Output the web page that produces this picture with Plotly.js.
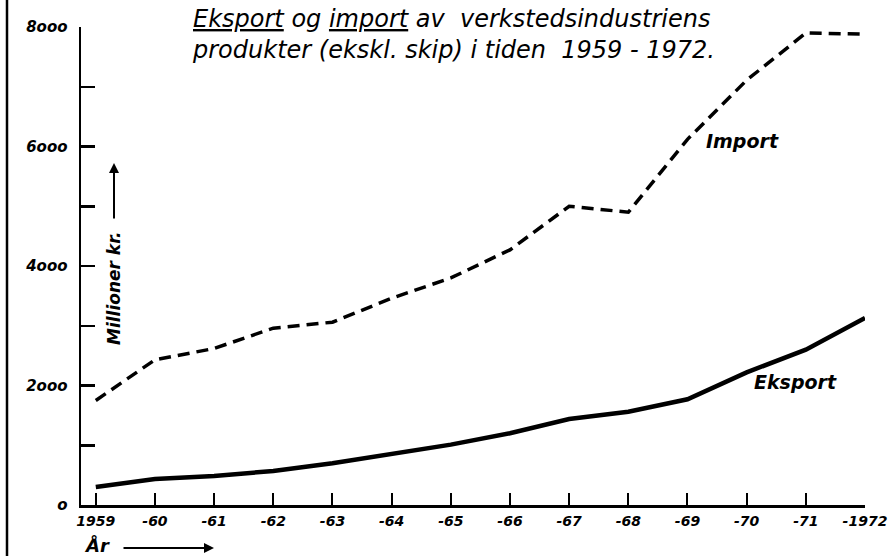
<!DOCTYPE html>
<html><head><meta charset="utf-8">
<script src="https://cdn.plot.ly/plotly-3.0.1.min.js"></script>
<style>html,body{margin:0;padding:0;background:#fff;}#chart{width:888px;height:556px;}</style>
</head><body><div id="chart"></div>
<script>
const years = [1959,1960,1961,1962,1963,1964,1965,1966,1967,1968,1969,1970,1971,1972];
const yearLabels = ['1959','-60','-61','-62','-63','-64','-65','-66','-67','-68','-69','-70','-71','-1972'];
const importValues = [1750,2430,2620,2960,3060,3460,3800,4270,5000,4900,6120,7110,7900,7880];
const eksportValues = [300,435,485,570,700,850,1010,1200,1440,1560,1770,2220,2600,3130];
const yTickVals = [0,1000,2000,3000,4000,5000,6000,7000,8000];
const yTickText = ['o','','2ooo','','4ooo','','6ooo','','8ooo'];

const L=81, R=865, T=27, B=505;
const px = x => (x-L)/(R-L);
const py = y => (B-y)/(B-T);
const FONT = 'DejaVu Sans';

const traces = [
  {x: years, y: importValues, mode:'lines', line:{color:'#000', width:3.5, dash:'12px,7px'}, name:'Import'},
  {x: years, y: eksportValues, mode:'lines', line:{color:'#000', width:4.5}, name:'Eksport'}
];

function label(x, y, text, size, extra) {
  return Object.assign({xref:'paper', yref:'paper', x:px(x), y:py(y), xanchor:'center', yanchor:'middle',
    showarrow:false, text:text, font:{family:FONT, size:size, color:'#000', style:'italic', weight:'bold'}}, extra||{});
}

const layout = {
  width:888, height:556,
  margin:{l:L, r:888-R, t:T, b:556-B},
  paper_bgcolor:'#fff', plot_bgcolor:'#fff',
  showlegend:false,
  xaxis:{range:[1958.75,1972], showgrid:false, zeroline:false, showline:true, linecolor:'#000', linewidth:2.5,
    tickmode:'array', tickvals: years, ticktext: yearLabels, ticks:'inside', ticklen:12, tickwidth:2, tickcolor:'#000',
    ticklabelstandoff:2, ticklabeloverflow:'allow',
    tickfont:{family:FONT, size:14, color:'#000', weight:'bold', style:'italic'}},
  yaxis:{range:[0,8000], showgrid:false, zeroline:false, showline:true, linecolor:'#000', linewidth:2.5,
    tickmode:'array', tickvals: yTickVals, ticktext: yTickText, ticks:'inside', ticklen:14, tickwidth:2.5, tickcolor:'#000',
    ticklabelstandoff:8,
    tickfont:{family:FONT, size:15, color:'#000', weight:'bold', style:'italic'}},
  shapes:[
    {type:'line', xref:'paper', yref:'paper', x0:px(7), x1:px(7), y0:py(560), y1:py(-5), line:{color:'#000', width:2.5}}
  ],
  annotations:[
    {xref:'paper', yref:'paper', x:px(190), y:py(3), xanchor:'left', yanchor:'top', align:'left', showarrow:false,
     text:'<u>Eksport</u> og <u>import</u> av  verkstedsindustriens<br>produkter (ekskl. skip) i tiden  1959 - 1972.',
     font:{family:FONT, size:24, color:'#000', style:'italic'}},
    label(742, 141, 'Import', 19),
    label(795, 382, 'Eksport', 19),
    label(114, 288, 'Millioner kr.', 17, {textangle:-90}),
    {xref:'paper', yref:'paper', x:px(114), y:py(163), showarrow:true, text:'', ax:0, ay:57,
     arrowhead:2, arrowsize:1, arrowwidth:2, arrowcolor:'#000'},
    label(97, 545, 'År', 18),
    {xref:'paper', yref:'paper', x:px(214), y:py(548), showarrow:true, text:'', ax:-92, ay:0,
     arrowhead:2, arrowsize:1, arrowwidth:2, arrowcolor:'#000'}
  ]
};
Plotly.newPlot('chart', traces, layout, {displayModeBar:false, staticPlot:true});
</script></body></html>
